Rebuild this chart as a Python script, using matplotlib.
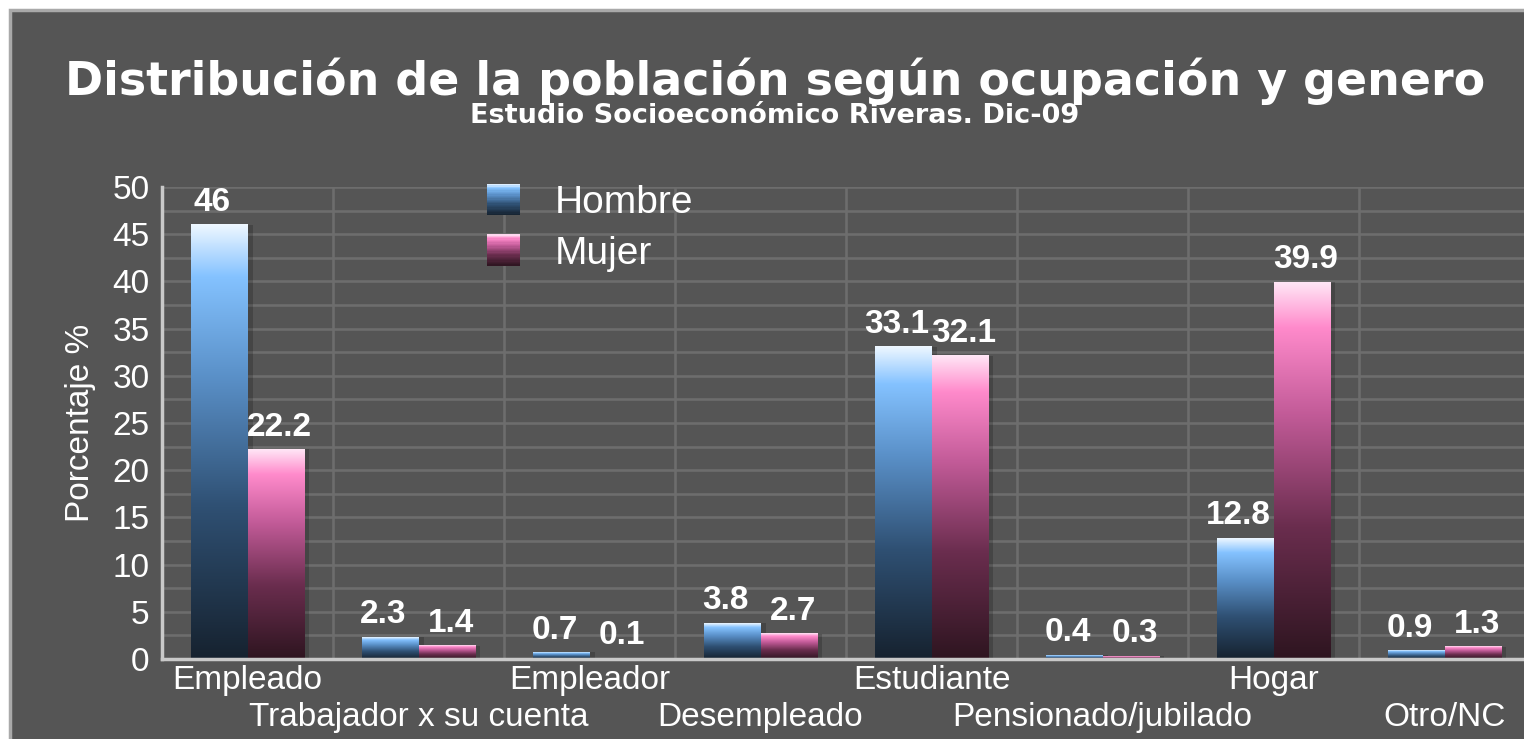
import numpy as np
import matplotlib.pyplot as plt
from matplotlib.patches import Rectangle, Patch
from matplotlib.colors import LinearSegmentedColormap
from matplotlib.legend_handler import HandlerBase
from matplotlib.transforms import ScaledTranslation

# datos
categorias = ['Empleado', 'Trabajador x su cuenta', 'Empleador', 'Desempleado',
              'Estudiante', 'Pensionado/jubilado', 'Hogar', 'Otro/NC']
hombre = [46, 2.3, 0.7, 3.8, 33.1, 0.4, 12.8, 0.9]
mujer = [22.2, 1.4, 0.1, 2.7, 32.1, 0.3, 39.9, 1.3]

# degradados (abajo -> arriba)
azul = LinearSegmentedColormap.from_list('azul', [
    (0.0, '#16222f'), (0.35, '#2f5073'), (0.65, '#5a90c8'),
    (0.88, '#84c2ff'), (1.0, '#eef7ff')])
rosa = LinearSegmentedColormap.from_list('rosa', [
    (0.0, '#2e1520'), (0.35, '#6a2d4e'), (0.65, '#c25b98'),
    (0.88, '#ff8acb'), (1.0, '#ffe6f6')])

plt.rcParams['font.family'] = ['Liberation Sans', 'DejaVu Sans']


class Degradado(HandlerBase):
    def __init__(self, cmap):
        super().__init__()
        self.cmap = cmap

    def create_artists(self, legend, orig_handle, xdescent, ydescent,
                       width, height, fontsize, trans):
        n = 24
        arts = []
        for i in range(n):
            r = Rectangle((-xdescent, -ydescent + height * i / n), width,
                          height / n * 1.1, facecolor=self.cmap((i + 0.5) / n),
                          edgecolor='none', transform=trans)
            arts.append(r)
        return arts


fig = plt.figure(figsize=(15.24, 7.39), dpi=100)
fig.patch.set_facecolor('white')
panel = Rectangle((10 / 1524, -0.01), 1.0, 1 - 10 / 739 + 0.01,
                  transform=fig.transFigure, facecolor='#555555',
                  edgecolor='#a9a9a9', linewidth=2.5, zorder=-10)
fig.add_artist(panel)

ax = fig.add_axes([162 / 1524, 80 / 739, 1368 / 1524, 472 / 739])
ax.set_facecolor('#555555')

x = np.arange(len(categorias))
w = 0.33
for serie, cmap, off, dx in [(hombre, azul, -w / 2, -5), (mujer, rosa, w / 2, 3)]:
    barras = ax.bar(x + off, serie, w, color='none', edgecolor='none', zorder=3)
    grad = np.linspace(0, 1, 256).reshape(-1, 1)
    for b, v in zip(barras, serie):
        x0 = b.get_x()
        # sombra
        ax.add_patch(Rectangle((x0 + 0.03, 0), w, v, facecolor='black',
                               alpha=0.18, edgecolor='none', zorder=2))
        ax.imshow(grad, extent=[x0, x0 + w, 0, v], origin='lower', cmap=cmap,
                  aspect='auto', zorder=3, interpolation='bilinear')
        ax.annotate(f'{v:g}', (x0 + w / 2, v), xytext=(dx, 10),
                    textcoords='offset points', ha='center', va='baseline',
                    fontsize=24, fontweight='bold', color='white', zorder=5)

ax.set_xlim(-0.5, len(categorias) - 0.5)
ax.set_ylim(0, 50)
ax.set_yticks(np.arange(0, 51, 5))
ax.set_yticks(np.arange(2.5, 50, 5), minor=True)
ax.set_xticks(x)
ax.set_xticklabels(categorias)
ax.set_xticks(np.arange(0.5, len(categorias), 1), minor=True)
ax.tick_params(axis='both', which='both', length=0, colors='white', labelsize=24)
ax.tick_params(axis='y', pad=9)
ax.tick_params(axis='x', pad=4)
# etiquetas alternadas en dos filas
baja = ScaledTranslation(0, -0.37, fig.dpi_scale_trans)
for i, lab in enumerate(ax.get_xticklabels()):
    if i % 2 == 1:
        lab.set_transform(lab.get_transform() + baja)
ax.grid(True, which='both', color='#6d6d6d', linewidth=1.9, zorder=0)
ax.grid(False, axis='x', which='major')
ax.set_axisbelow(True)
for s in ['top', 'right']:
    ax.spines[s].set_visible(False)
for s in ['left', 'bottom']:
    ax.spines[s].set_color('#c9c9c9')
    ax.spines[s].set_linewidth(2.5)
    ax.spines[s].set_zorder(6)

ax.set_ylabel('Porcentaje %', fontsize=24, color='white', labelpad=12)

h1 = Patch(label='Hombre')
h2 = Patch(label='Mujer')
ax.legend(handles=[h1, h2], handler_map={h1: Degradado(azul), h2: Degradado(rosa)},
          loc='upper left', bbox_to_anchor=(487 / 1524, 1 - 184 / 739),
          bbox_transform=fig.transFigure, frameon=False, fontsize=28,
          labelcolor='white', handlelength=0.85, handleheight=0.85,
          handletextpad=0.9, labelspacing=0.35, borderpad=0, borderaxespad=0)

fig.text(775 / 1524, 1 - 95 / 739, 'Distribución de la población según ocupación y genero',
         ha='center', va='baseline', fontsize=33, fontweight='bold',
         color='white', family='DejaVu Sans')
fig.text(775 / 1524, 1 - 123 / 739, 'Estudio Socioeconómico Riveras. Dic-09',
         ha='center', va='baseline', fontsize=19.5, fontweight='bold',
         color='white', family='DejaVu Sans')

fig.savefig('out.png', dpi=100, facecolor='white')
